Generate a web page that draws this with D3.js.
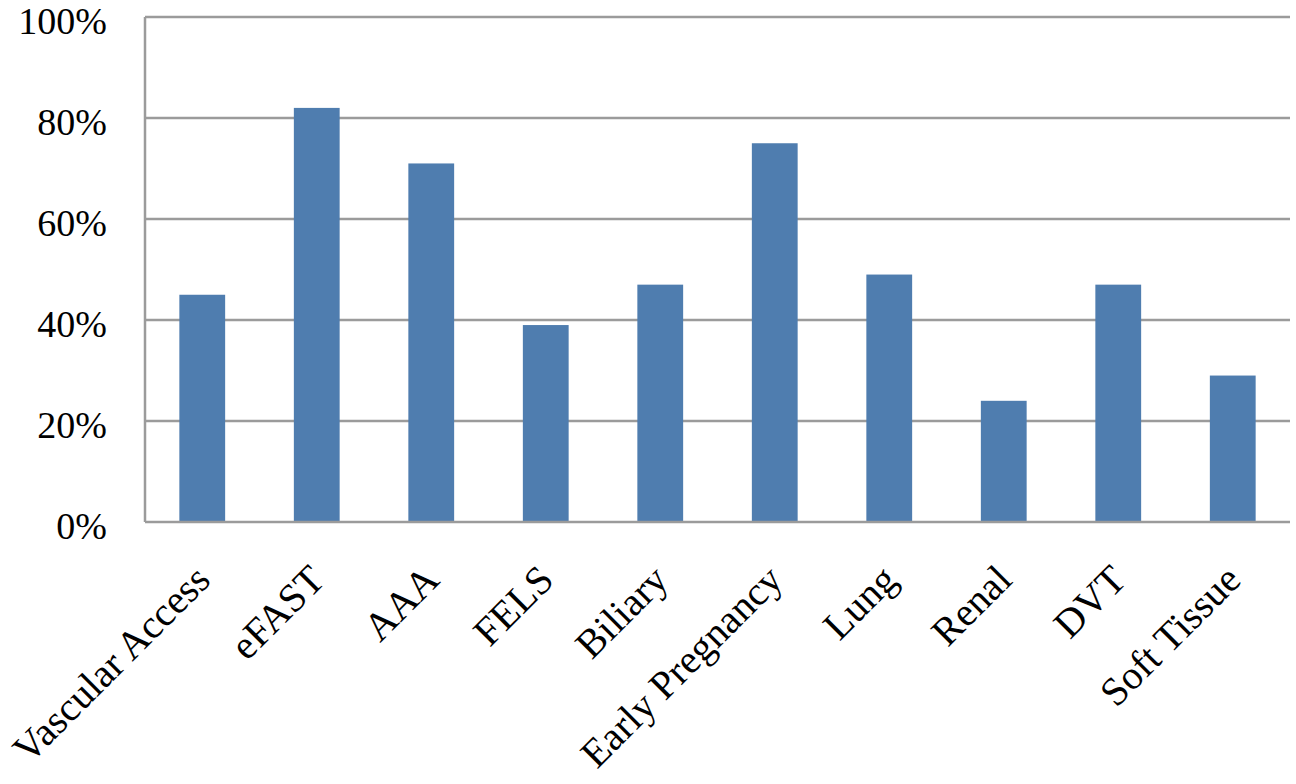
<!DOCTYPE html>
<html>
<head>
<meta charset="utf-8">
<script src="https://cdn.jsdelivr.net/npm/d3@7"></script>
<style>
  html, body { margin: 0; padding: 0; background: #fff; }
  svg { display: block; }
  text { font-family: "Liberation Serif", "Times New Roman", serif; fill: #000; }
</style>
</head>
<body>
<svg id="chart" width="1296" height="784"></svg>
<script>
const categories = ["Vascular Access", "eFAST", "AAA", "FELS", "Biliary", "Early Pregnancy", "Lung", "Renal", "DVT", "Soft Tissue"];
const values = [45, 82, 71, 39, 47, 75, 49, 24, 47, 29];
const yTicks = [0, 20, 40, 60, 80, 100];
const yTickLabels = ["0%", "20%", "40%", "60%", "80%", "100%"];

const svg = d3.select("#chart");
const plotLeft = 145, plotRight = 1290, plotTop = 17, plotBottom = 522;

const x = d3.scaleBand().domain(categories).range([plotLeft, plotRight]).paddingInner(0.6).paddingOuter(0.3);
const y = d3.scaleLinear().domain([0, 100]).range([plotBottom, plotTop]);

const gridColor = "#9b9b9b";

// gridlines
svg.append("g").selectAll("line").data(yTicks.filter(d => d > 0)).join("line")
  .attr("x1", plotLeft).attr("x2", plotRight)
  .attr("y1", d => y(d)).attr("y2", d => y(d))
  .attr("stroke", gridColor).attr("stroke-width", 2.5);

// bars
svg.append("g").selectAll("rect").data(values).join("rect")
  .attr("x", (d, i) => x(categories[i]))
  .attr("width", x.bandwidth())
  .attr("y", d => y(d))
  .attr("height", d => y(0) - y(d))
  .attr("fill", "#4f7daf");

// axes lines
svg.append("line").attr("x1", plotLeft).attr("x2", plotRight).attr("y1", y(0)).attr("y2", y(0))
  .attr("stroke", gridColor).attr("stroke-width", 2.5);
svg.append("line").attr("x1", plotLeft).attr("x2", plotLeft).attr("y1", plotTop).attr("y2", y(0))
  .attr("stroke", gridColor).attr("stroke-width", 2.5);

// y tick labels
svg.append("g").selectAll("text").data(yTicks).join("text")
  .attr("x", 107)
  .attr("y", d => y(d) + 17)
  .attr("text-anchor", "end")
  .attr("font-size", 38)
  .text((d, i) => yTickLabels[i]);

// x labels
svg.append("g").selectAll("text").data(categories).join("text")
  .attr("transform", d => `translate(${x(d) + x.bandwidth() / 2 + 10},582) rotate(-45)`)
  .attr("text-anchor", "end")
  .attr("font-size", 40)
  .text(d => d);
</script>
</body>
</html>
